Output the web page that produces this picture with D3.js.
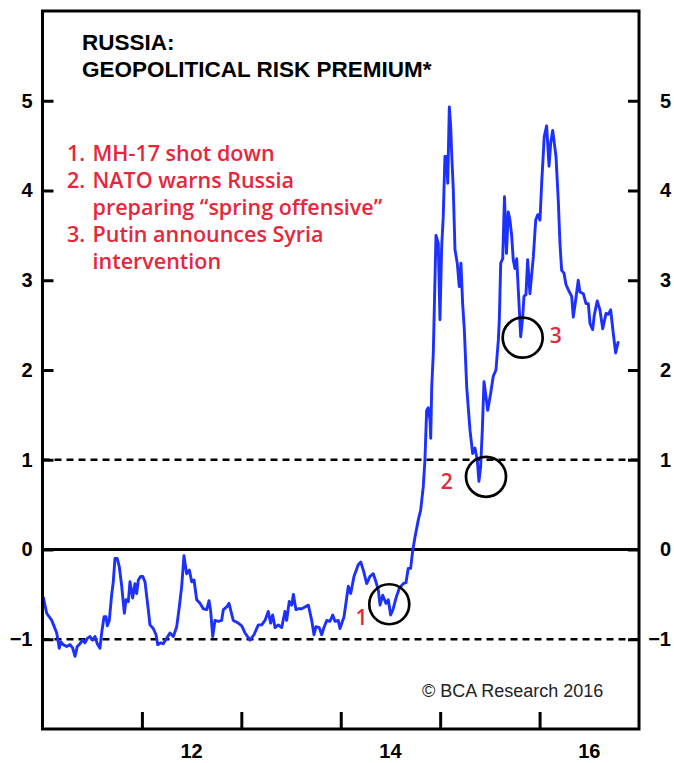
<!DOCTYPE html>
<html><head><meta charset="utf-8">
<script src="https://cdn.jsdelivr.net/npm/d3@7/dist/d3.min.js"></script>
<style>body{margin:0;background:#fff;}svg{display:block;}</style>
</head><body>
<svg id="chart" width="674" height="763"></svg>
<script>
// ---- data (decimal year, premium value) ----
const dates = [
2011.008,2011.042,2011.093,2011.143,2011.169,2011.186,2011.209,2011.243,2011.277,2011.304,
2011.327,2011.350,2011.377,2011.404,2011.427,2011.451,2011.478,2011.505,2011.528,2011.551,
2011.578,2011.595,2011.619,2011.639,2011.652,2011.672,2011.696,2011.712,2011.729,2011.752,
2011.772,2011.797,2011.823,2011.840,2011.863,2011.880,2011.907,2011.930,2011.947,2011.964,
2011.988,2012.008,2012.031,2012.064,2012.081,2012.114,2012.142,2012.159,2012.192,2012.215,
2012.249,2012.282,2012.316,2012.350,2012.376,2012.400,2012.423,2012.450,2012.477,2012.501,
2012.524,2012.551,2012.584,2012.617,2012.652,2012.675,2012.692,2012.712,2012.735,2012.768,
2012.802,2012.819,2012.853,2012.876,2012.896,2012.919,2012.969,2013.004,2013.037,2013.087,
2013.127,2013.171,2013.205,2013.238,2013.271,2013.295,2013.315,2013.339,2013.372,2013.406,
2013.439,2013.456,2013.482,2013.507,2013.523,2013.550,2013.573,2013.607,2013.640,2013.674,
2013.708,2013.731,2013.751,2013.784,2013.808,2013.831,2013.859,2013.892,2013.919,2013.942,
2013.975,2013.992,2014.033,2014.076,2014.100,2014.133,2014.176,2014.201,2014.227,2014.261,
2014.294,2014.327,2014.354,2014.378,2014.395,2014.422,2014.455,2014.478,2014.502,2014.528,
2014.556,2014.589,2014.629,2014.656,2014.679,2014.703,2014.724,2014.747,2014.780,2014.804,
2014.830,2014.847,2014.864,2014.880,2014.898,2014.905,2014.915,2014.931,2014.943,2014.958,
2014.981,2014.998,2015.015,2015.031,2015.048,2015.066,2015.076,2015.092,2015.106,2015.116,
2015.132,2015.149,2015.172,2015.192,2015.209,2015.226,2015.243,2015.267,2015.300,2015.327,
2015.350,2015.373,2015.390,2015.407,2015.424,2015.441,2015.461,2015.478,2015.508,2015.534,
2015.561,2015.585,2015.595,2015.609,2015.629,2015.647,2015.667,2015.685,2015.702,2015.719,
2015.735,2015.752,2015.770,2015.786,2015.810,2015.830,2015.843,2015.863,2015.880,2015.903,
2015.937,2015.961,2015.981,2016.004,2016.021,2016.047,2016.071,2016.095,2016.112,2016.132,
2016.165,2016.188,2016.205,2016.222,2016.245,2016.266,2016.299,2016.323,2016.339,2016.363,
2016.389,2016.406,2016.440,2016.467,2016.490,2016.507,2016.534,2016.550,2016.580,2016.607,
2016.635,2016.668,2016.691,2016.715,2016.741,2016.765,2016.792
];
const premium = [
-0.53,-0.71,-0.79,-0.93,-1.10,-1.03,-1.06,-1.08,-1.06,-1.10,
-1.19,-1.08,-1.05,-1.01,-1.04,-0.99,-0.97,-1.01,-0.97,-1.05,
-1.10,-0.93,-0.75,-0.75,-0.85,-0.79,-0.50,-0.36,-0.10,-0.10,
-0.19,-0.41,-0.71,-0.56,-0.58,-0.36,-0.54,-0.38,-0.49,-0.34,
-0.30,-0.30,-0.36,-0.67,-0.84,-0.88,-0.95,-1.06,-1.04,-1.05,
-0.99,-0.93,-0.97,-0.86,-0.64,-0.41,-0.07,-0.27,-0.23,-0.36,
-0.34,-0.56,-0.60,-0.66,-0.67,-0.57,-0.69,-0.97,-0.79,-0.80,
-0.79,-0.67,-0.64,-0.60,-0.69,-0.79,-0.82,-0.85,-0.93,-1.01,
-0.95,-0.84,-0.84,-0.79,-0.69,-0.82,-0.73,-0.87,-0.84,-0.87,
-0.69,-0.79,-0.58,-0.62,-0.50,-0.67,-0.66,-0.66,-0.64,-0.62,
-0.79,-0.95,-0.86,-0.87,-0.95,-0.87,-0.79,-0.80,-0.73,-0.80,
-0.79,-0.88,-0.75,-0.41,-0.49,-0.30,-0.17,-0.14,-0.23,-0.38,
-0.30,-0.27,-0.36,-0.45,-0.62,-0.51,-0.60,-0.56,-0.73,-0.66,
-0.54,-0.43,-0.38,-0.37,-0.21,-0.21,-0.01,0.14,0.33,0.44,
0.70,1.00,1.55,1.58,1.44,1.24,1.81,2.19,2.78,3.50,
3.41,2.56,3.37,3.71,4.38,4.38,4.08,4.93,4.71,4.41,
4.01,3.34,3.19,2.93,3.19,2.74,2.45,1.81,1.33,1.07,
1.13,1.00,0.76,0.92,1.33,1.87,1.70,1.55,1.74,1.93,
2.00,2.33,2.56,3.19,3.24,3.93,3.30,3.76,3.67,3.50,
3.23,3.13,3.24,2.89,2.37,2.59,2.82,2.84,3.23,2.85,
3.26,3.67,3.73,3.67,4.08,4.60,4.72,4.27,4.53,4.67,
4.38,3.89,3.41,3.11,3.08,2.95,2.87,2.82,2.59,2.78,
3.00,2.87,2.85,2.74,2.74,2.52,2.45,2.61,2.77,2.67,
2.46,2.63,2.62,2.67,2.41,2.19,2.32
];
const yTicks = [-1, 0, 1, 2, 3, 4, 5];
const yearTicks = [2012, 2013, 2014, 2015, 2016];
const labelYears = [2012, 2014, 2016];
const labelTexts = ["12", "14", "16"];
const dashedLevels = [1, -1];
const zeroLevel = 0;
const titleLines = ["RUSSIA:", "GEOPOLITICAL RISK PREMIUM*"];
const noteNumbers = ["1.", "2.", "", "3.", ""];
const noteTexts = ["MH-17 shot down", "NATO warns Russia", "preparing \u201cspring offensive\u201d", "Putin announces Syria", "intervention"];
const eventLabels = ["1", "2", "3"];
const eventDates = [2014.488, 2015.461, 2015.830];
const eventValues = [-0.61, 0.81, 2.36];
const eventLabelDates = [2014.210, 2015.066, 2016.162];
const eventLabelValues = [-0.76, 0.755, 2.38];
const credit = "\u00a9 BCA Research 2016";

// ---- layout ----
const W = 674, H = 763;
const L = 42.5, R = 639, T = 11, B = 729;
const svg = d3.select("#chart");
const x = d3.scaleLinear().domain([2011, 2017]).range([L, R]);
const y = d3.scaleLinear().domain([-2, 6]).range([B, T]);
const RED = "#e8263b", BLUE = "#1c30ff";
const boldFont = "'Liberation Sans', Arial, sans-serif";

// reference lines
svg.selectAll("line.dash").data(dashedLevels).enter().append("line")
  .attr("x1", L).attr("x2", R).attr("y1", d => y(d)).attr("y2", d => y(d))
  .attr("stroke", "#000").attr("stroke-width", 2.7).attr("stroke-dasharray", "7,5");
svg.append("line").attr("x1", L).attr("x2", R).attr("y1", y(zeroLevel)).attr("y2", y(zeroLevel))
  .attr("stroke", "#000").attr("stroke-width", 2.8);

// series
const pts = dates.map((d, i) => [d, premium[i]]);
svg.append("path").datum(pts)
  .attr("d", d3.line().x(d => x(d[0])).y(d => y(d[1])))
  .attr("fill", "none").attr("stroke", BLUE).attr("stroke-width", 2.9)
  .attr("stroke-linejoin", "round");

// axes (ticks drawn inward)
const leftAxis = d3.axisLeft(y).tickValues(yTicks).tickSizeInner(-11).tickSizeOuter(0).tickFormat(d3.format("d"));
const rightAxis = d3.axisRight(y).tickValues(yTicks).tickSizeInner(-11).tickSizeOuter(0).tickFormat(d3.format("d"));
const bottomAxis = d3.axisBottom(x).tickValues(yearTicks).tickSizeInner(-17).tickSizeOuter(0).tickFormat("");
function styleAxis(g) {
  g.select(".domain").remove();
  g.selectAll(".tick line").attr("stroke", "#000").attr("stroke-width", 3);
  g.selectAll(".tick text").attr("fill", "#000").attr("font-family", boldFont)
    .attr("font-weight", "bold").attr("font-size", 20);
}
svg.append("g").attr("transform", `translate(${L},0)`).call(leftAxis).call(styleAxis)
  .selectAll(".tick text").attr("x", -10).attr("text-anchor", "end");
svg.append("g").attr("transform", `translate(${R},0)`).call(rightAxis).call(styleAxis)
  .selectAll(".tick text").attr("x", 32).attr("text-anchor", "end");
svg.append("g").attr("transform", `translate(0,${B})`).call(bottomAxis).call(styleAxis);

// year labels centred in the year span
svg.selectAll("text.yr").data(labelYears).enter().append("text")
  .attr("x", d => x(d + 0.5)).attr("y", 758).attr("text-anchor", "middle")
  .attr("font-family", boldFont).attr("font-weight", "bold").attr("font-size", 20)
  .text((d, i) => labelTexts[i]);

// frame
svg.append("rect").attr("x", L).attr("y", T).attr("width", R - L).attr("height", B - T)
  .attr("fill", "none").attr("stroke", "#000").attr("stroke-width", 3);

// title
svg.selectAll("text.title").data(titleLines).enter().append("text")
  .attr("x", 82).attr("y", (d, i) => 49.5 + i * 27)
  .attr("font-family", boldFont).attr("font-weight", "bold").attr("font-size", 22.5)
  .attr("fill", "#000").text(d => d);

// notes
const noteFont = "'Open Sans', 'Noto Sans', sans-serif";
noteTexts.forEach((t, i) => {
  const by = 161 + i * 27.1;
  if (noteNumbers[i]) svg.append("text").attr("x", 67).attr("y", by)
    .attr("font-family", noteFont).attr("font-weight", 600).attr("font-size", 21.5)
    .attr("fill", RED).text(noteNumbers[i]);
  svg.append("text").attr("x", 92.5).attr("y", by)
    .attr("font-family", noteFont).attr("font-weight", 600).attr("font-size", 21.5)
    .attr("fill", RED).text(t);
});

// event circles and labels
svg.selectAll("circle.ev").data(eventLabels).enter().append("circle")
  .attr("cx", (d, i) => x(eventDates[i])).attr("cy", (d, i) => y(eventValues[i])).attr("r", 20)
  .attr("fill", "none").attr("stroke", "#000").attr("stroke-width", 2.7);
svg.selectAll("text.ev").data(eventLabels).enter().append("text")
  .attr("x", (d, i) => x(eventLabelDates[i])).attr("y", (d, i) => y(eventLabelValues[i]) + 7.5)
  .attr("text-anchor", "middle").attr("font-family", noteFont).attr("font-weight", 600)
  .attr("font-size", 21).attr("fill", RED).text(d => d);

// credit
svg.append("text").attr("x", 422).attr("y", 697)
  .attr("font-family", "'Liberation Sans', Arial, sans-serif").attr("font-size", 18)
  .attr("fill", "#222").text(credit);
</script>
</body></html>
